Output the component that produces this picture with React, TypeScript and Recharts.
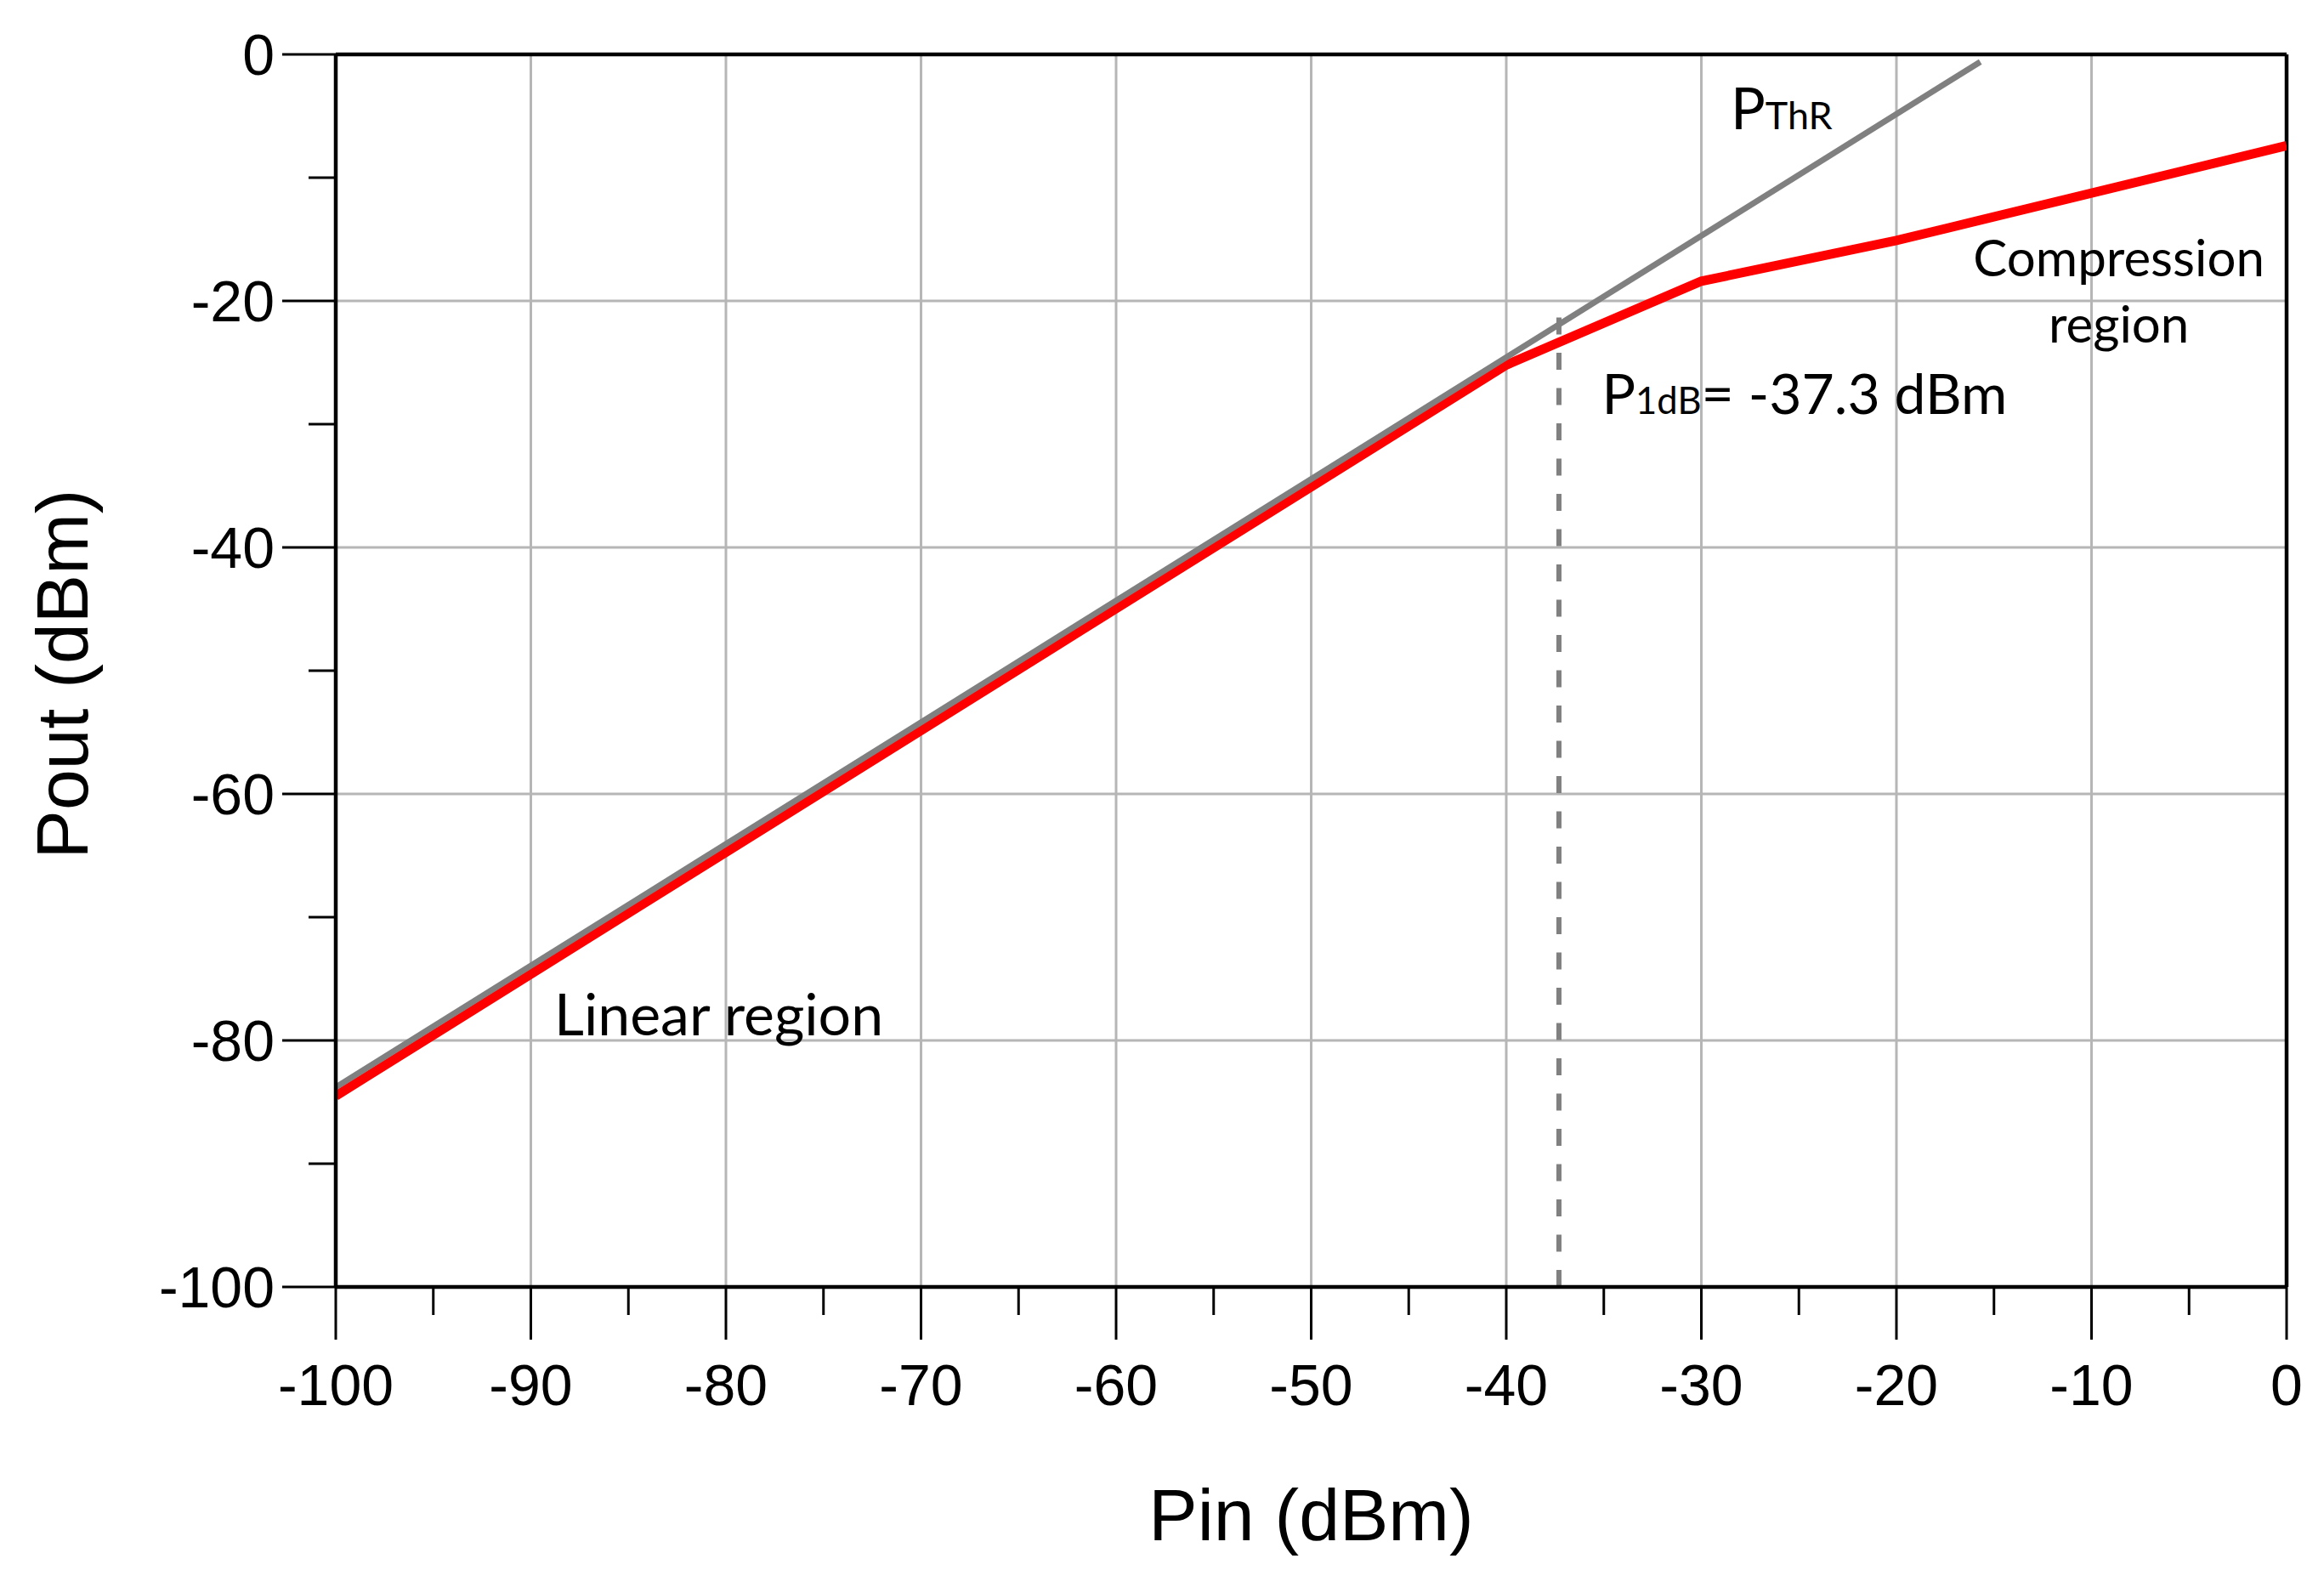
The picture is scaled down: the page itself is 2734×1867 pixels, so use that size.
import React from 'react';
import { LineChart, Line, XAxis, YAxis, CartesianGrid, ReferenceLine, ReferenceDot } from 'recharts';

// measured red curve (gain compression)
const outPin = [-100, -40, -30, -20, 0];
const outPout = [-84.5, -25.2, -18.4, -15.1, -7.4];

// ideal linear extrapolation (P ThR)
const thrPin = [-100, -15.7];
const thrPout = [-83.8, -0.6];

// 1 dB compression marker
const p1dbPin = -37.3;
const p1dbPout = [-100, -21.3];

const xTicks = [-100, -95, -90, -85, -80, -75, -70, -65, -60, -55, -50, -45, -40, -35, -30, -25, -20, -15, -10, -5, 0];
const xLabels = [-100, -90, -80, -70, -60, -50, -40, -30, -20, -10, 0];
const yTicks = [-100, -90, -80, -70, -60, -50, -40, -30, -20, -10, 0];
const yLabels = [-100, -80, -60, -40, -20, 0];
const xGrid = [-90, -80, -70, -60, -50, -40, -30, -20, -10];
const yGrid = [-80, -60, -40, -20];

const outData = outPin.map((pin, i) => ({ pin, pout: outPout[i] }));
const thrData = thrPin.map((pin, i) => ({ pin, pout: thrPout[i] }));
const p1dbData = p1dbPout.map((pout) => ({ pin: p1dbPin, pout }));

const AXIS_FONT = '"Liberation Sans", Arial, sans-serif';
const NOTE_FONT = 'Lato, "Open Sans", sans-serif';

const XTick = (props: any) => {
  const { x, y, payload } = props;
  const major = xLabels.includes(payload.value);
  return (
    <g>
      <line x1={x} y1={y} x2={x} y2={y + (major ? 62 : 33)} stroke="#000" strokeWidth={3} />
      {major && (
        <text x={x} y={y + 139} textAnchor="middle" fontSize={68} fontFamily={AXIS_FONT} fill="#000">
          {payload.value}
        </text>
      )}
    </g>
  );
};

const YTick = (props: any) => {
  const { x, y, payload } = props;
  const major = yLabels.includes(payload.value);
  return (
    <g>
      <line x1={x - (major ? 63 : 32)} y1={y} x2={x} y2={y} stroke="#000" strokeWidth={3} />
      {major && (
        <text x={x - 72} y={y} dy="0.36em" textAnchor="end" fontSize={68} fontFamily={AXIS_FONT} fill="#000">
          {payload.value}
        </text>
      )}
    </g>
  );
};

const XTitle = (props: any) => {
  const { viewBox } = props;
  return (
    <text x={viewBox.x + viewBox.width / 2} y={viewBox.y + 298} textAnchor="middle" fontSize={86} fontFamily={AXIS_FONT} fill="#000">
      Pin (dBm)
    </text>
  );
};

const YTitle = (props: any) => {
  const { viewBox } = props;
  const cx = viewBox.x + 95;
  const cy = viewBox.y + viewBox.height / 2 + 4;
  return (
    <text x={cx} y={cy} transform={`rotate(-90 ${cx} ${cy})`} textAnchor="middle" fontSize={86} fontFamily={AXIS_FONT} fill="#000">
      Pout (dBm)
    </text>
  );
};

const Note = (props: any) => {
  const { viewBox, main, sub, rest, size = 68, anchor = 'start' } = props;
  const x = viewBox.x + viewBox.width / 2;
  const y = viewBox.y + viewBox.height / 2;
  return (
    <text x={x} y={y} textAnchor={anchor} fontSize={size} fontFamily={NOTE_FONT} fill="#000">
      {main}
      {sub && <tspan fontSize={size * 0.66}>{sub}</tspan>}
      {rest}
    </text>
  );
};

export default function App() {
  return (
    <div style={{ width: 2718, height: 1851, background: '#fff' }}>
      <LineChart width={2718} height={1851} margin={{ top: 56, right: 36, bottom: 0, left: 0 }}>
        <CartesianGrid
          horizontalValues={yGrid}
          verticalValues={xGrid}
          stroke="#b6b6b6"
          strokeWidth={3}
        />
        <XAxis
          dataKey="pin"
          type="number"
          domain={[-100, 0]}
          ticks={xTicks}
          interval={0}
          allowDataOverflow
          height={345}
          tickSize={0}
          tickMargin={0}
          tickLine={false}
          axisLine={{ stroke: '#000', strokeWidth: 4.5 }}
          tick={<XTick />}
          label={<XTitle />}
        />
        <YAxis
          dataKey="pout"
          type="number"
          domain={[-100, 0]}
          ticks={yTicks}
          interval={0}
          allowDataOverflow
          width={387}
          tickSize={0}
          tickMargin={0}
          tickLine={false}
          axisLine={{ stroke: '#000', strokeWidth: 4.5 }}
          tick={<YTick />}
          label={<YTitle />}
        />
        <ReferenceLine y={0} stroke="#000" strokeWidth={4.5} />
        <ReferenceLine x={0} stroke="#000" strokeWidth={4.5} />
        <Line
          data={p1dbData}
          dataKey="pout"
          stroke="#808080"
          strokeWidth={6}
          strokeDasharray="20 21.5"
          dot={false}
          isAnimationActive={false}
        />
        <Line data={outData} dataKey="pout" stroke="#ff0000" strokeWidth={11} dot={false} isAnimationActive={false} />
        <Line data={thrData} dataKey="pout" stroke="#808080" strokeWidth={7} dot={false} isAnimationActive={false} />
        <ReferenceDot x={-28.5} y={-6.1} r={0} stroke="none" fill="none" label={<Note main="P" sub="ThR" />} />
        <ReferenceDot x={-35.1} y={-29.2} r={0} stroke="none" fill="none" label={<Note main="P" sub="1dB" rest="= -37.3 dBm" size={66} />} />
        <ReferenceDot x={-8.6} y={-18.0} r={0} stroke="none" fill="none" label={<Note main="Compression" size={60} anchor="middle" />} />
        <ReferenceDot x={-8.6} y={-23.4} r={0} stroke="none" fill="none" label={<Note main="region" size={60} anchor="middle" />} />
        <ReferenceDot x={-88.8} y={-79.6} r={0} stroke="none" fill="none" label={<Note main="Linear region" />} />
      </LineChart>
    </div>
  );
}
